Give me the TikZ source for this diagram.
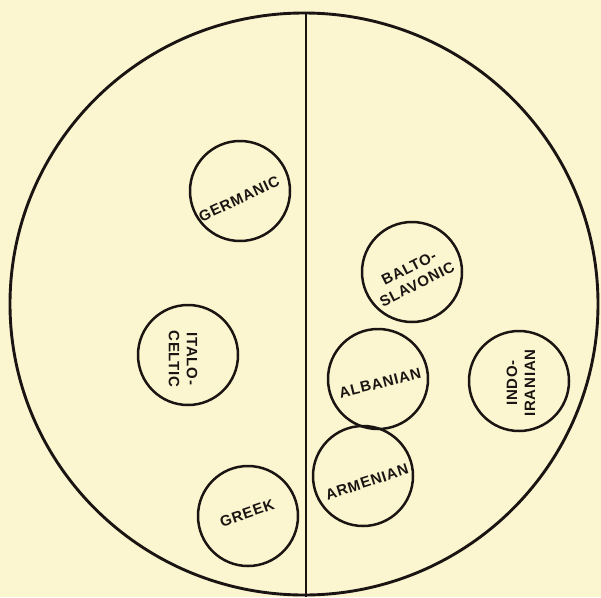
\documentclass[tikz,border=0pt]{standalone}
\usepackage{fontspec}
\newfontfamily\lblfont{Liberation Sans}[LetterSpace=5]
\definecolor{paper}{HTML}{FCF6D0}
\definecolor{ink}{HTML}{1A1512}
\begin{document}
\begin{tikzpicture}[x=1pt,y=-1pt,
  group/.style={circle, draw=ink, line width=2.5pt, minimum size=100pt, inner sep=0pt},
  lbl/.style={font=\lblfont\bfseries\fontsize{15}{18}\selectfont, text=ink, align=center, inner sep=0pt}]
\fill[paper] (0,0) rectangle (601,597);
\useasboundingbox (0,0) rectangle (601,597);
% outer circle and divider
\draw[ink, line width=2.9pt] (304,304) ellipse [x radius=294, y radius=291];
\coordinate (top) at (306,13);
\coordinate (bot) at (306,597);
\draw[ink, line width=2.2pt] (top) -- (bot);
% groups
\node[group] (germanic) at (240,191) {};
\node[group] (balto) at (412,272) {};
\node[group] (italo) at (188,355) {};
\node[group] (albanian) at (378,379) {};
\node[group] (indo) at (519,381) {};
\node[group] (armenian) at (363,476) {};
\node[group] (greek) at (248,516) {};
% labels
\node[lbl, rotate=25] (tgermanic) at (239,199) {GERMANIC};
\node[lbl, rotate=27] (tbalto) at (413,276) {BALTO-\\SLAVONIC};
\node[lbl, rotate=-90] (titalo) at (183,359) {ITALO-\\CELTIC};
\node[lbl, rotate=14] (talbanian) at (380,383) {ALBANIAN};
\node[lbl, rotate=90] (tindo) at (521,383) {INDO-\\IRANIAN};
\node[lbl, rotate=18] (tarmenian) at (367,482) {ARMENIAN};
\node[lbl, rotate=19] (tgreek) at (247,513) {GREEK};
\end{tikzpicture}
\end{document}
